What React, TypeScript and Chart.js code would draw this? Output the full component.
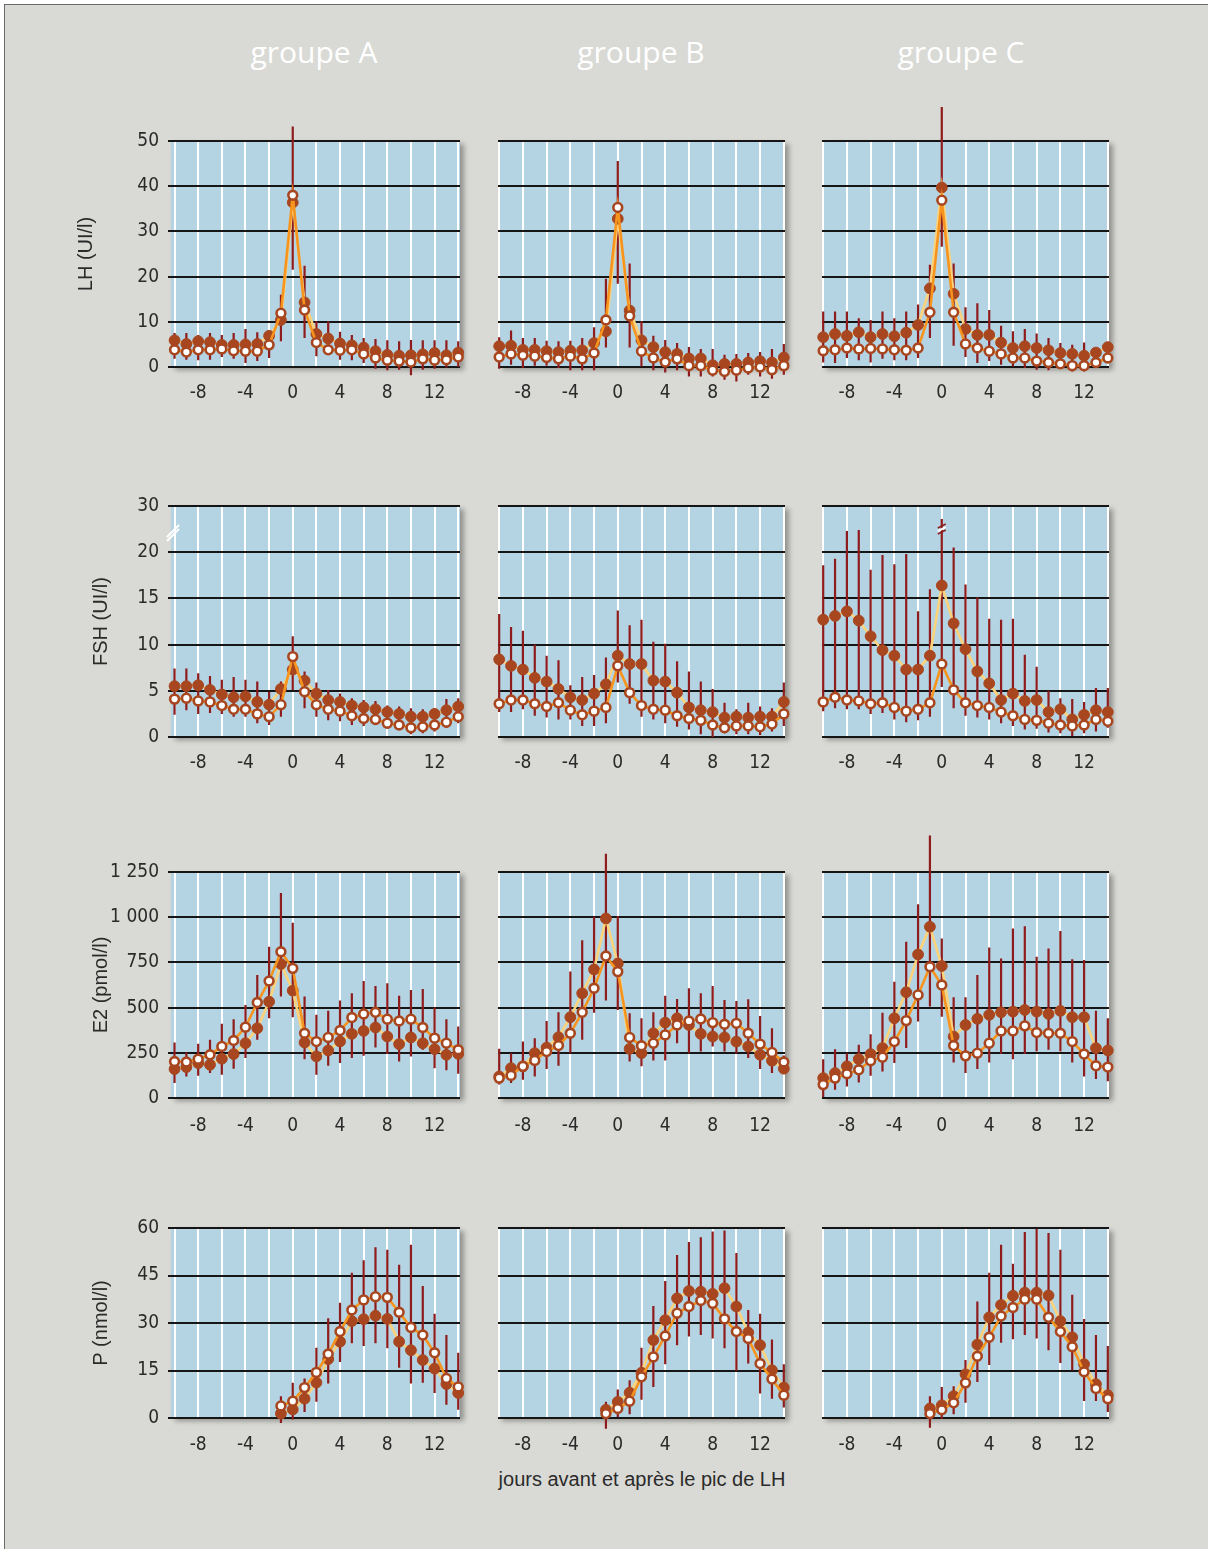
import React, { useEffect, useRef } from 'react';
import { Chart, registerables } from 'chart.js';

Chart.register(...registerables);

// ---------- data ----------
const days = [-10, -9, -8, -7, -6, -5, -4, -3, -2, -1, 0, 1, 2, 3, 4, 5, 6, 7, 8, 9, 10, 11, 12, 13, 14];
const pDays = [-1, 0, 1, 2, 3, 4, 5, 6, 7, 8, 9, 10, 11, 12, 13, 14];
const xGridDays = [-10, -8, -6, -4, -2, 0, 2, 4, 6, 8, 10, 12, 14];
const xLabelDays = [-8, -4, 0, 4, 8, 12];
const groupNames = ['groupe A', 'groupe B', 'groupe C'];
const xAxisCaption = 'jours avant et après le pic de LH';

const lhTickValues = [0, 10, 20, 30, 40, 50];
const lhTickLabels = ['0', '10', '20', '30', '40', '50'];
const fshTickValues = [0, 5, 10, 15, 20, 25];
const fshTickLabels = ['0', '5', '10', '15', '20', '30'];
const e2TickValues = [0, 250, 500, 750, 1000, 1250];
const e2TickLabels = ['0', '250', '500', '750', '1 000', '1 250'];
const pTickValues = [0, 15, 30, 45, 60];
const pTickLabels = ['0', '15', '30', '45', '60'];

// LH
const lhAFilled = [5.9, 5.1, 5.7, 5.5, 4.9, 4.9, 5.0, 5.1, 6.9, 10.4, 36.4, 14.3, 7.3, 6.3, 5.2, 4.8, 4.3, 3.5, 2.7, 2.5, 2.6, 2.8, 3.1, 2.6, 3.2];
const lhAOpen = [3.8, 3.3, 3.8, 3.8, 4.0, 3.6, 3.5, 3.5, 4.9, 11.9, 38.0, 12.6, 5.4, 3.8, 3.7, 3.8, 2.9, 2.0, 1.5, 1.3, 1.1, 1.8, 1.5, 1.6, 2.2];
const lhAHi = [7.5, 7.5, 7.1, 7.5, 7.1, 7.5, 8.4, 7.7, 7.9, 16.0, 53.2, 22.4, 10.1, 10.1, 7.8, 7.1, 6.4, 6.2, 5.9, 5.7, 6.0, 5.9, 5.9, 5.9, 5.7];
const lhALo = [1.8, 1.6, 1.5, 1.6, 2.2, 1.8, 0.9, 1.3, 2.0, 5.7, 21.5, 6.4, 2.4, 3.1, 1.6, 1.5, 0.9, -0.4, -0.7, -0.6, -1.8, -0.6, -0.4, -0.1, 0.0];

const lhBFilled = [4.6, 4.7, 3.8, 3.8, 3.5, 3.3, 3.6, 3.7, 5.3, 7.9, 32.8, 12.5, 5.9, 4.4, 3.3, 2.9, 1.9, 1.9, 0.4, 0.7, 0.7, 1.0, 1.3, 1.0, 2.1];
const lhBOpen = [2.2, 2.9, 2.6, 2.4, 2.1, 1.8, 2.4, 1.8, 3.1, 10.4, 35.3, 11.3, 3.5, 2.0, 1.1, 1.8, 0.3, 0.3, -0.7, -1.0, -0.7, -0.2, 0.0, -0.6, 0.3];
const lhBHi = [6.6, 8.1, 6.4, 6.4, 5.8, 5.7, 5.8, 6.4, 8.8, 19.5, 45.6, 22.9, 10.1, 6.9, 6.0, 5.3, 4.4, 4.0, 4.0, 2.7, 2.9, 3.1, 3.3, 4.0, 5.1];
const lhBLo = [-0.4, 0.5, -0.2, 0.3, 0.3, -0.2, -0.7, -0.7, -0.7, 4.3, 18.4, 4.3, 0.1, -0.7, -1.2, -0.7, -2.1, -2.1, -2.1, -2.8, -3.2, -1.7, -2.1, -2.6, -1.7];

const lhCFilled = [6.6, 7.3, 6.9, 7.7, 6.6, 7.3, 6.8, 7.6, 9.3, 17.4, 39.7, 16.2, 8.4, 7.1, 7.1, 5.4, 4.2, 4.6, 4.2, 3.7, 3.1, 2.9, 2.5, 3.2, 4.4];
const lhCOpen = [3.6, 3.8, 4.2, 4.0, 4.1, 4.0, 3.8, 3.7, 4.2, 12.1, 36.9, 12.1, 5.1, 4.2, 3.5, 2.9, 2.0, 2.0, 1.3, 1.0, 0.7, 0.3, 0.3, 1.0, 2.0];
const lhCHi = [12.3, 12.3, 12.3, 10.8, 10.4, 12.3, 10.8, 12.3, 13.8, 22.6, 57.5, 22.9, 13.2, 14.1, 12.6, 9.1, 7.9, 8.4, 7.4, 6.4, 5.3, 4.9, 5.4, 4.2, 5.3];
const lhCLo = [1.0, 0.9, 2.0, 1.5, 1.0, 1.8, 1.5, 1.5, 2.0, 6.4, 26.6, 4.7, 2.2, 0.9, 1.3, 0.5, 0.1, -0.2, -0.6, -0.7, -0.2, -1.0, -1.0, 0.1, 0.9];

// FSH
const fshAFilled = [5.5, 5.5, 5.6, 5.1, 4.6, 4.3, 4.4, 3.8, 3.5, 5.2, 7.3, 6.1, 4.7, 4.0, 3.8, 3.4, 3.2, 3.0, 2.7, 2.5, 2.2, 2.2, 2.5, 2.9, 3.3];
const fshAOpen = [4.1, 4.2, 3.9, 3.8, 3.4, 3.0, 3.0, 2.5, 2.2, 3.5, 8.7, 4.9, 3.5, 3.0, 2.8, 2.3, 2.0, 1.9, 1.5, 1.3, 1.0, 1.1, 1.3, 1.6, 2.2];
const fshAHi = [7.4, 7.4, 6.9, 6.6, 6.2, 6.5, 6.2, 6.0, 4.9, 6.0, 10.9, 7.1, 5.9, 5.1, 4.7, 4.2, 4.0, 3.9, 3.4, 3.3, 3.1, 3.0, 3.1, 4.1, 4.2];
const fshALo = [2.4, 2.9, 2.5, 2.6, 2.5, 2.2, 2.2, 1.5, 1.3, 2.2, 5.1, 3.1, 2.2, 1.8, 1.7, 1.3, 1.2, 1.3, 0.9, 0.8, 0.3, 0.4, 0.6, 1.0, 1.5];

const fshBFilled = [8.4, 7.7, 7.3, 6.4, 6.0, 5.2, 4.3, 4.0, 4.7, 5.7, 8.8, 7.9, 7.9, 6.1, 6.0, 4.8, 3.2, 2.9, 2.7, 2.1, 2.2, 2.1, 2.2, 2.2, 3.8];
const fshBOpen = [3.6, 4.0, 4.0, 3.6, 3.3, 3.7, 2.9, 2.4, 2.8, 3.2, 7.7, 4.8, 3.4, 3.0, 2.9, 2.3, 2.0, 1.8, 1.3, 1.0, 1.2, 1.2, 1.1, 1.4, 2.5];
const fshBHi = [13.3, 11.9, 11.5, 10.0, 8.8, 8.3, 5.6, 6.5, 6.7, 8.6, 13.7, 12.1, 12.7, 10.3, 10.1, 8.2, 7.1, 6.0, 5.2, 3.7, 3.0, 3.7, 3.3, 3.1, 5.9];
const fshBLo = [2.7, 2.7, 3.0, 2.3, 2.1, 1.9, 1.9, 1.2, 1.2, 1.5, 5.9, 3.6, 2.2, 1.9, 1.5, 1.1, 0.8, 0.3, 0.0, 0.4, 0.3, 0.3, 0.2, 0.6, 1.2];

const fshCFilled = [12.7, 13.1, 13.6, 12.6, 10.9, 9.4, 8.8, 7.3, 7.3, 8.8, 16.4, 12.3, 9.5, 7.1, 5.8, 4.0, 4.7, 3.9, 4.0, 2.7, 3.0, 1.9, 2.4, 2.9, 2.7];
const fshCOpen = [3.8, 4.3, 4.0, 3.9, 3.6, 3.7, 3.2, 2.8, 3.0, 3.7, 7.9, 5.1, 3.7, 3.4, 3.2, 2.7, 2.3, 1.9, 1.8, 1.5, 1.3, 1.2, 1.3, 1.9, 1.7];
const fshCHi = [18.6, 19.3, 22.3, 22.4, 18.1, 19.7, 18.7, 19.8, 13.6, 16.0, 23.6, 20.5, 16.5, 15.1, 12.8, 12.7, 12.8, 8.9, 7.6, 5.0, 4.2, 4.1, 3.8, 5.3, 5.3];
const fshCLo = [2.8, 3.1, 3.0, 3.0, 2.5, 2.6, 1.9, 1.6, 1.8, 2.2, 5.4, 3.1, 2.3, 2.1, 1.9, 1.5, 1.2, 0.8, 0.9, 0.5, 0.4, 0.1, 0.4, 0.6, 1.0];

// E2
const e2AFilled = [160, 171, 193, 184, 217, 243, 303, 386, 533, 741, 594, 307, 230, 263, 313, 355, 371, 390, 340, 298, 335, 303, 270, 239, 244];
const e2AOpen = [202, 199, 215, 239, 285, 318, 392, 528, 647, 809, 717, 358, 312, 335, 373, 445, 465, 474, 436, 426, 436, 390, 331, 303, 267];
const e2AHi = [307, 252, 300, 322, 410, 436, 515, 680, 836, 1134, 969, 561, 460, 482, 539, 579, 647, 619, 634, 566, 597, 603, 500, 436, 395];
const e2ALo = [83, 119, 123, 138, 129, 162, 221, 322, 441, 561, 447, 215, 129, 178, 193, 221, 233, 279, 244, 202, 230, 267, 165, 153, 134];

const e2BFilled = [119, 165, 175, 248, 279, 336, 447, 579, 711, 993, 744, 272, 248, 358, 417, 441, 404, 355, 340, 335, 312, 285, 239, 206, 162];
const e2BOpen = [110, 125, 175, 208, 257, 290, 358, 474, 607, 785, 699, 335, 289, 303, 349, 404, 426, 437, 417, 408, 413, 358, 298, 252, 199];
const e2BHi = [272, 248, 312, 331, 426, 474, 699, 873, 1002, 1351, 1006, 469, 441, 474, 566, 548, 607, 579, 619, 542, 537, 546, 454, 386, 235];
const e2BLo = [74, 83, 101, 119, 160, 178, 248, 322, 472, 539, 487, 202, 175, 208, 208, 303, 248, 257, 285, 257, 248, 221, 160, 138, 150];

const e2CFilled = [110, 138, 175, 215, 243, 276, 441, 585, 794, 947, 730, 340, 404, 438, 460, 474, 478, 487, 478, 465, 482, 447, 447, 276, 263];
const e2COpen = [74, 110, 134, 156, 206, 226, 312, 428, 570, 726, 625, 290, 233, 248, 303, 371, 371, 399, 362, 358, 358, 312, 243, 178, 171];
const e2CHi = [215, 270, 248, 294, 353, 472, 643, 864, 1072, 1452, 882, 557, 557, 680, 833, 772, 938, 950, 781, 827, 923, 767, 763, 483, 441];
const e2CLo = [6, 46, 64, 86, 123, 147, 193, 276, 423, 506, 450, 197, 138, 160, 197, 243, 215, 243, 257, 267, 257, 197, 119, 105, 92];

// P (days -1 .. 14)
const pAFilled = [1.4, 2.7, 6.1, 11.2, 18.6, 24.1, 30.6, 31.2, 32.3, 31.3, 24.1, 21.4, 18.3, 15.6, 10.7, 7.9];
const pAOpen = [3.8, 5.3, 9.6, 14.4, 20.2, 27.3, 34.1, 37.3, 38.3, 38.1, 33.4, 28.6, 26.2, 20.6, 12.5, 9.8];
const pAHi = [6.9, 11.1, 12.5, 22.2, 31.5, 36.4, 45.9, 49.8, 53.9, 53.1, 48.4, 54.7, 41.7, 32.9, 26.2, 20.6];
const pALo = [-1.6, -0.5, 1.9, 5.1, 10.9, 17.7, 23.6, 22.7, 23.6, 22.0, 15.9, 10.9, 11.1, 7.9, 4.2, 2.6];

const pBFilled = [2.6, 5.1, 8.0, 14.3, 24.6, 30.9, 37.8, 40.1, 39.9, 39.2, 41.0, 35.2, 27.0, 23.0, 15.1, 9.6];
const pBOpen = [1.4, 3.0, 5.3, 13.0, 19.3, 25.9, 33.1, 35.2, 37.1, 36.2, 31.3, 27.3, 25.1, 17.2, 12.3, 7.2];
const pBHi = [5.1, 9.0, 11.9, 22.2, 35.4, 43.3, 51.5, 55.6, 57.1, 58.9, 59.2, 52.1, 34.1, 32.9, 24.8, 17.0];
const pBLo = [-3.4, 0.3, 1.2, 5.8, 9.8, 17.0, 23.0, 25.7, 26.2, 25.1, 22.0, 14.9, 17.2, 7.7, 6.1, 3.3];

const pCFilled = [3.0, 4.0, 6.9, 13.8, 23.2, 31.8, 35.7, 38.6, 39.6, 39.6, 38.7, 30.6, 25.5, 17.0, 10.7, 7.2];
const pCOpen = [1.4, 2.6, 4.8, 11.1, 19.5, 25.5, 32.2, 34.9, 37.5, 37.5, 31.8, 27.3, 22.5, 14.6, 9.3, 6.1];
const pCHi = [6.9, 9.8, 10.0, 18.3, 36.8, 45.9, 54.7, 48.7, 58.7, 59.7, 58.4, 53.1, 38.9, 31.3, 26.2, 22.7];
const pCLo = [-3.1, -0.2, 1.2, 4.8, 11.4, 16.7, 23.8, 24.9, 26.2, 25.1, 21.4, 17.4, 15.1, 5.4, 5.4, 1.9];

// ---------- layout / style ----------
const BG = '#D9DAD5';
const BLUE = '#B4D4E3';
const BROWN = '#A8461F';
const ERR = '#8E1C1C';
const LINE_OPEN = '#F7941E';
const LINE_FILLED = '#FCD27A';
const TEXT = '#2a2a2a';
const TICK_FONT = "'Liberation Sans Narrow', 'DejaVu Sans Condensed', 'Liberation Sans', Arial, sans-serif";
const TITLE_FONT = "'Liberation Sans', Arial, sans-serif";

type Row = { title: string; max: number; ticks: number[]; labels: string[]; top: number; height: number; titlePad: number; tickPad: number; breakAt: number | null };
type Col = { min: number; max: number; left: number; width: number; canvasLeft: number; center: number };

const rows: Row[] = [
  { title: 'LH (UI/l)', max: 50, ticks: lhTickValues, labels: lhTickLabels, top: 141, height: 226, titlePad: 14, tickPad: 15, breakAt: null },
  { title: 'FSH (UI/l)', max: 25, ticks: fshTickValues, labels: fshTickLabels, top: 506, height: 231, titlePad: 29, tickPad: 15, breakAt: 22.4 },
  { title: 'E2 (pmol/l)', max: 1250, ticks: e2TickValues, labels: e2TickLabels, top: 872, height: 226, titlePad: 29, tickPad: 17, breakAt: null },
  { title: 'P (nmol/l)', max: 60, ticks: pTickValues, labels: pTickLabels, top: 1228, height: 190, titlePad: 29, tickPad: 16, breakAt: null },
];

const cols: Col[] = [
  { min: -10.3, max: 14.15, left: 171, width: 289, canvasLeft: 60, center: 314 },
  { min: -10.1, max: 14.1, left: 498, width: 287, canvasLeft: 474, center: 641 },
  { min: -10.1, max: 14.1, left: 822, width: 287, canvasLeft: 798, center: 961 },
];

type PanelData = { row: number; col: number; x: number[]; filled: number[]; open: number[]; hi: number[]; lo: number[] };

const panels: PanelData[] = [
  { row: 0, col: 0, x: days, filled: lhAFilled, open: lhAOpen, hi: lhAHi, lo: lhALo },
  { row: 0, col: 1, x: days, filled: lhBFilled, open: lhBOpen, hi: lhBHi, lo: lhBLo },
  { row: 0, col: 2, x: days, filled: lhCFilled, open: lhCOpen, hi: lhCHi, lo: lhCLo },
  { row: 1, col: 0, x: days, filled: fshAFilled, open: fshAOpen, hi: fshAHi, lo: fshALo },
  { row: 1, col: 1, x: days, filled: fshBFilled, open: fshBOpen, hi: fshBHi, lo: fshBLo },
  { row: 1, col: 2, x: days, filled: fshCFilled, open: fshCOpen, hi: fshCHi, lo: fshCLo },
  { row: 2, col: 0, x: days, filled: e2AFilled, open: e2AOpen, hi: e2AHi, lo: e2ALo },
  { row: 2, col: 1, x: days, filled: e2BFilled, open: e2BOpen, hi: e2BHi, lo: e2BLo },
  { row: 2, col: 2, x: days, filled: e2CFilled, open: e2COpen, hi: e2CHi, lo: e2CLo },
  { row: 3, col: 0, x: pDays, filled: pAFilled, open: pAOpen, hi: pAHi, lo: pALo },
  { row: 3, col: 1, x: pDays, filled: pBFilled, open: pBOpen, hi: pBHi, lo: pBLo },
  { row: 3, col: 2, x: pDays, filled: pCFilled, open: pCOpen, hi: pCHi, lo: pCLo },
];

const PAD_T = 45;
const PAD_B = 44;
const PAD_R = 24;

function Panel({ p }: { p: PanelData }) {
  const ref = useRef<HTMLCanvasElement | null>(null);
  const r = rows[p.row];
  const c = cols[p.col];
  const padL = c.left - c.canvasLeft;
  const W = padL + c.width + PAD_R;
  const H = PAD_T + r.height + PAD_B;
  const isA = p.col === 0;

  useEffect(() => {
    if (!ref.current) return;
    const deco = {
      id: 'deco',
      beforeDraw(chart: any) {
        const { ctx, chartArea: a } = chart;
        ctx.save();
        ctx.shadowColor = 'rgba(0,0,0,0.33)';
        ctx.shadowBlur = 5;
        ctx.shadowOffsetX = 4;
        ctx.shadowOffsetY = 3;
        ctx.fillStyle = BLUE;
        ctx.fillRect(a.left, a.top, a.right - a.left, a.bottom - a.top);
        ctx.restore();
      },
      beforeDatasetsDraw(chart: any) {
        const { ctx, chartArea: a } = chart;
        const xs = chart.scales.x;
        const ys = chart.scales.y;
        ctx.save();
        if (r.breakAt !== null && isA) {
          const yb = ys.getPixelForValue(r.breakAt);
          ctx.strokeStyle = '#ffffff';
          ctx.lineWidth = 2;
          ctx.beginPath();
          ctx.moveTo(a.left - 4, yb + 7);
          ctx.lineTo(a.left + 8, yb - 5);
          ctx.moveTo(a.left - 4, yb + 11);
          ctx.lineTo(a.left + 8, yb - 1);
          ctx.stroke();
        }
        ctx.strokeStyle = ERR;
        ctx.lineWidth = 2.2;
        ctx.beginPath();
        p.x.forEach((d, i) => {
          const px = xs.getPixelForValue(d);
          ctx.moveTo(px, ys.getPixelForValue(p.hi[i]));
          ctx.lineTo(px, ys.getPixelForValue(p.lo[i]));
        });
        ctx.stroke();
        if (r.breakAt !== null && !isA) {
          p.x.forEach((d, i) => {
            if (p.hi[i] > r.breakAt! + 0.8) {
              const px = xs.getPixelForValue(d);
              const yb = ys.getPixelForValue(r.breakAt!);
              ctx.strokeStyle = '#ffffff';
              ctx.lineWidth = 2;
              ctx.beginPath();
              ctx.moveTo(px - 4, yb + 1);
              ctx.lineTo(px + 4, yb - 3);
              ctx.stroke();
              ctx.strokeStyle = ERR;
              ctx.lineWidth = 1.5;
              ctx.beginPath();
              ctx.moveTo(px - 4, yb + 4);
              ctx.lineTo(px + 4, yb);
              ctx.moveTo(px - 4, yb - 2);
              ctx.lineTo(px + 4, yb - 6);
              ctx.stroke();
            }
          });
        }
        ctx.restore();
      },
    };

    const chart = new Chart(ref.current, {
      type: 'line',
      data: {
        datasets: [
          {
            data: p.x.map((d, i) => ({ x: d, y: p.filled[i] })),
            borderColor: LINE_FILLED,
            borderWidth: 2.6,
            pointRadius: 5.4,
            pointBackgroundColor: BROWN,
            pointBorderColor: BROWN,
            pointBorderWidth: 1,
            tension: 0,
            clip: false,
            order: 2,
          },
          {
            data: p.x.map((d, i) => ({ x: d, y: p.open[i] })),
            borderColor: LINE_OPEN,
            borderWidth: 2.6,
            pointRadius: 4.4,
            pointBackgroundColor: '#ffffff',
            pointBorderColor: BROWN,
            pointBorderWidth: 2.6,
            tension: 0,
            clip: false,
            order: 1,
          },
        ],
      },
      options: {
        responsive: false,
        animation: false,
        devicePixelRatio: 1,
        events: [],
        layout: { padding: { left: 0, top: PAD_T, right: PAD_R, bottom: 0 } },
        plugins: { legend: { display: false }, tooltip: { enabled: false } },
        scales: {
          x: {
            type: 'linear',
            min: c.min,
            max: c.max,
            afterBuildTicks: (s: any) => {
              s.ticks = xGridDays.map((v) => ({ value: v }));
            },
            afterFit: (s: any) => {
              s.height = PAD_B;
            },
            grid: { color: '#ffffff', lineWidth: 2, drawTicks: false },
            border: { display: false },
            ticks: {
              autoSkip: false,
              maxRotation: 0,
              padding: r.tickPad,
              color: TEXT,
              font: { family: TICK_FONT, size: 19 },
              callback: (v: any) => (xLabelDays.includes(Number(v)) ? String(v) : ''),
            },
          },
          y: {
            type: 'linear',
            min: 0,
            max: r.max,
            afterBuildTicks: (s: any) => {
              s.ticks = r.ticks.map((v) => ({ value: v }));
            },
            afterFit: (s: any) => {
              s.width = padL;
            },
            grid: { color: '#151515', lineWidth: 2, drawTicks: isA, tickLength: 3 },
            border: { display: false },
            ticks: {
              display: isA,
              padding: 9,
              color: TEXT,
              font: { family: TICK_FONT, size: 19 },
              callback: (_v: any, i: number) => r.labels[i],
            },
            title: {
              display: isA,
              text: r.title,
              color: TEXT,
              font: { family: TITLE_FONT, size: 20 },
              padding: { top: r.titlePad, bottom: 0 },
            },
          },
        },
      },
      plugins: [deco],
    } as any);
    return () => chart.destroy();
  }, []);

  return (
    <canvas
      ref={ref}
      width={W}
      height={H}
      style={{ position: 'absolute', left: c.canvasLeft, top: r.top - PAD_T, width: W, height: H }}
    />
  );
}

export default function App() {
  return (
    <div style={{ position: 'absolute', left: 0, top: 0, width: 1208, height: 1549, overflow: 'hidden', background: '#ffffff' }}>
      <div
        style={{
          position: 'absolute',
          left: 4,
          top: 4,
          width: 1230,
          height: 1570,
          background: BG,
          borderTop: '1px solid #6b6b6b',
          borderLeft: '1px solid #6b6b6b',
        }}
      />
      {groupNames.map((g, i) => (
        <div
          key={g}
          style={{
            position: 'absolute',
            left: cols[i].center - 120,
            width: 240,
            top: 33,
            lineHeight: '38px',
            textAlign: 'center',
            color: '#ffffff',
            fontFamily: "'Open Sans', 'Liberation Sans', sans-serif",
            fontSize: 30,
          }}
        >
          {g}
        </div>
      ))}
      {panels.map((p) => (
        <Panel key={`${p.row}-${p.col}`} p={p} />
      ))}
      <div
        style={{
          position: 'absolute',
          left: 442,
          width: 400,
          top: 1467,
          lineHeight: '24px',
          textAlign: 'center',
          color: TEXT,
          fontFamily: TITLE_FONT,
          fontSize: 20,
          whiteSpace: 'nowrap',
        }}
      >
        {xAxisCaption}
      </div>
    </div>
  );
}
